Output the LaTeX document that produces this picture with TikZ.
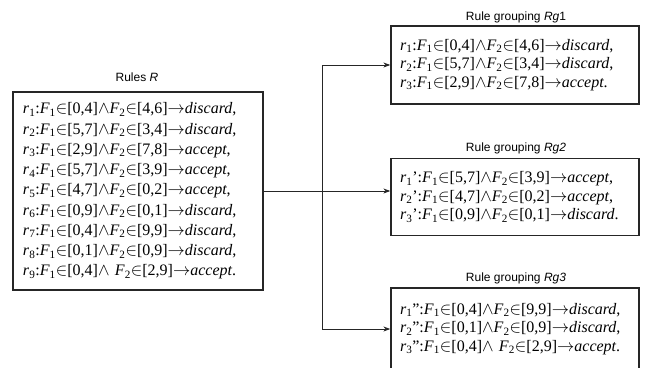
\documentclass[tikz,border=0pt]{standalone}
\usepackage{fontspec}
\setmainfont{Liberation Serif}
\newfontfamily\headfont{Liberation Sans}
\usetikzlibrary{arrows.meta}

% rule notation helpers
\newcommand\IN{\ensuremath{\in}}
\newcommand\AND{\ensuremath{\wedge}}
\newcommand\TO{\ensuremath{\rightarrow}}
\newcommand\Fv[1]{\textit{F}\textsubscript{#1}}
\newcommand\Rv[1]{\textit{r}\textsubscript{#1}}

\tikzset{
  rulebox/.style={draw=black!85, line width=1.3pt, rectangle, align=left,
    inner xsep=9pt, text width=230pt, anchor=center},
  mainfont/.style={font=\fontsize{16}{20.25}\selectfont},
  groupfont/.style={font=\fontsize{16}{18.5}\selectfont},
  boxtitle/.style={font=\headfont\fontsize{12}{14}\selectfont},
  link/.style={draw=black!85, line width=1pt},
  arr/.style={link, -{Stealth[length=7pt,width=5pt]}}
}

\begin{document}
\begin{tikzpicture}[x=1pt,y=-1pt]
\useasboundingbox (0,0) rectangle (645,367);
\clip (0,0) rectangle (645,367);

% source rule set
\node[boxtitle] (titleR) at (137,77) {Rules \textit{R}};
\node[rulebox, mainfont, minimum width=250pt, minimum height=198pt] (main) at (138,191) {%
\Rv{1}:\Fv{1}\IN[0,4]\AND\Fv{2}\IN[4,6]\TO\textit{discard},\\
\Rv{2}:\Fv{1}\IN[5,7]\AND\Fv{2}\IN[3,4]\TO\textit{discard},\\
\Rv{3}:\Fv{1}\IN[2,9]\AND\Fv{2}\IN[7,8]\TO\textit{accept},\\
\Rv{4}:\Fv{1}\IN[5,7]\AND\Fv{2}\IN[3,9]\TO\textit{accept},\\
\Rv{5}:\Fv{1}\IN[4,7]\AND\Fv{2}\IN[0,2]\TO\textit{accept},\\
\Rv{6}:\Fv{1}\IN[0,9]\AND\Fv{2}\IN[0,1]\TO\textit{discard},\\
\Rv{7}:\Fv{1}\IN[0,4]\AND\Fv{2}\IN[9,9]\TO\textit{discard},\\
\Rv{8}:\Fv{1}\IN[0,1]\AND\Fv{2}\IN[0,9]\TO\textit{discard},\\
\Rv{9}:\Fv{1}\IN[0,4]\AND{} \Fv{2}\IN[2,9]\TO\textit{accept}.};

% first grouping
\node[boxtitle] (titleA) at (516,17) {Rule grouping \textit{Rg}1};
\node[rulebox, groupfont, minimum width=248pt, minimum height=78pt] (rg1) at (515,65) {%
\Rv{1}:\Fv{1}\IN[0,4]\AND\Fv{2}\IN[4,6]\TO\textit{discard},\\
\Rv{2}:\Fv{1}\IN[5,7]\AND\Fv{2}\IN[3,4]\TO\textit{discard},\\
\Rv{3}:\Fv{1}\IN[2,9]\AND\Fv{2}\IN[7,8]\TO\textit{accept}.};

% second grouping
\node[boxtitle] (titleB) at (516,148) {Rule grouping \textit{Rg2}};
\node[rulebox, groupfont, minimum width=248pt, minimum height=77pt] (rg2) at (515,197) {%
\Rv{1}':\Fv{1}\IN[5,7]\AND\Fv{2}\IN[3,9]\TO\textit{accept},\\
\Rv{2}':\Fv{1}\IN[4,7]\AND\Fv{2}\IN[0,2]\TO\textit{accept},\\
\Rv{3}':\Fv{1}\IN[0,9]\AND\Fv{2}\IN[0,1]\TO\textit{discard}.};

% third grouping, running past the lower edge
\node[boxtitle] (titleC) at (516,278) {Rule grouping \textit{Rg3}};
\node[rulebox, groupfont, minimum width=248pt, minimum height=82pt] (rg3) at (515,329) {%
\Rv{1}":\Fv{1}\IN[0,4]\AND\Fv{2}\IN[9,9]\TO\textit{discard},\\
\Rv{2}":\Fv{1}\IN[0,1]\AND\Fv{2}\IN[0,9]\TO\textit{discard},\\
\Rv{3}":\Fv{1}\IN[0,4]\AND{} \Fv{2}\IN[2,9]\TO\textit{accept}.};

% distribution lines
\coordinate (split) at (322,191);
\draw[link] (main.east |- split) -- (split);
\draw[arr] (split) -- (rg2.west |- split);
\draw[arr] (split) |- (rg1.west);
\draw[arr] (split) |- (rg3.west);
\end{tikzpicture}
\end{document}
